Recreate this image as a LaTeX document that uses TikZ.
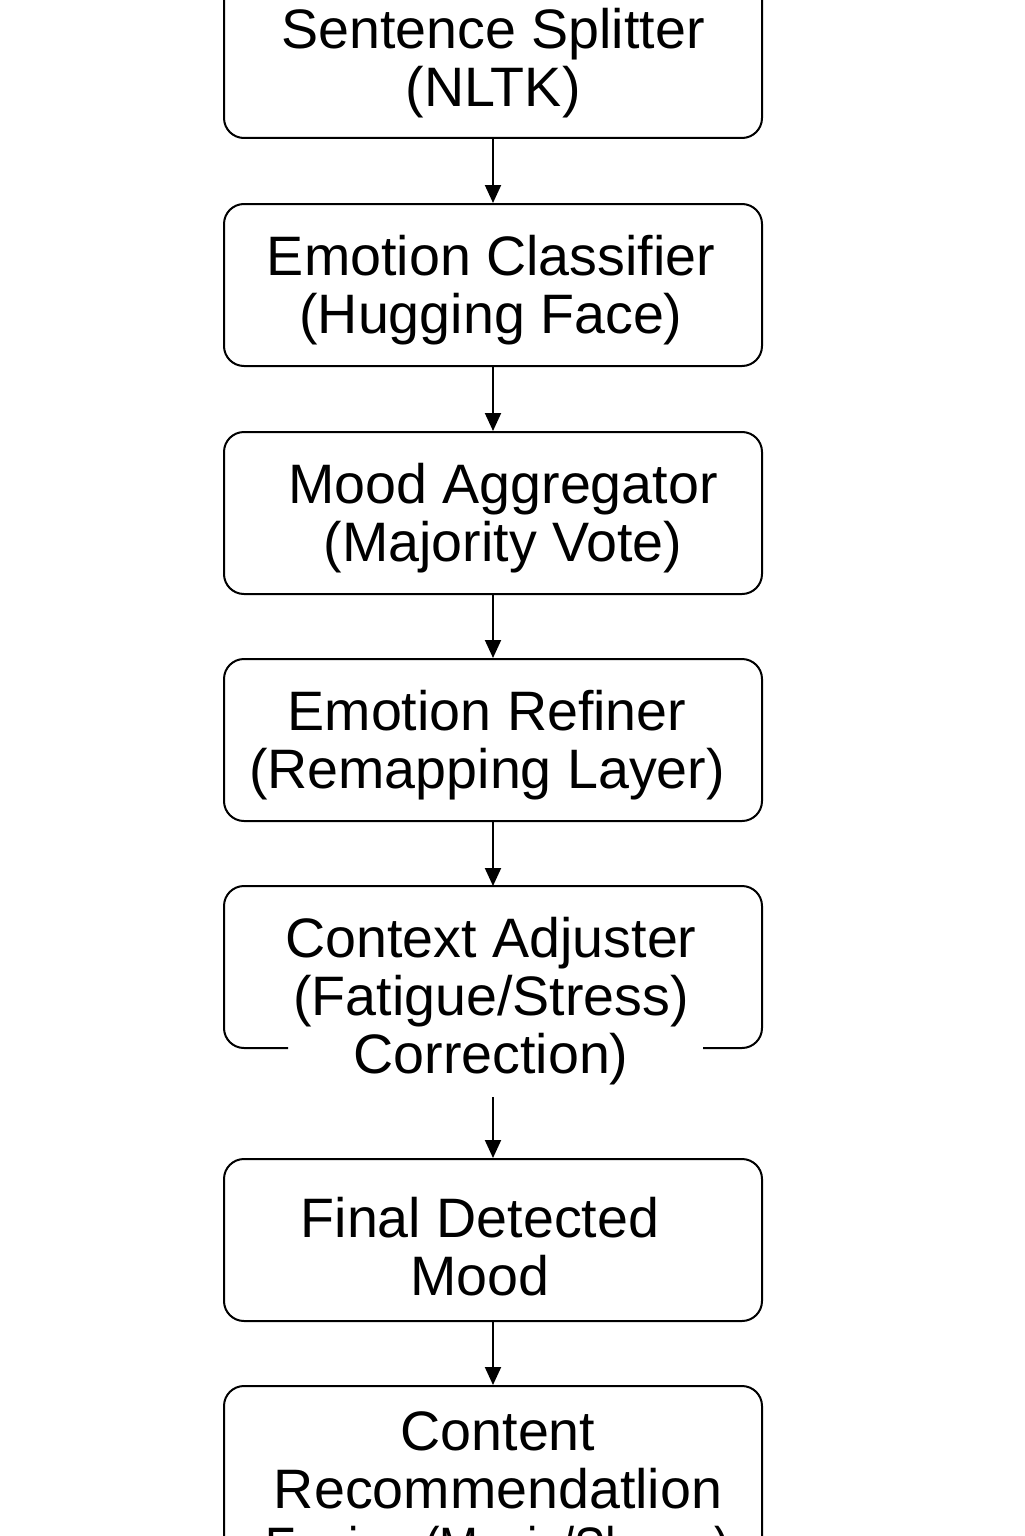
\documentclass[tikz,border=0pt]{standalone}
\usepackage{fontspec}
\setmainfont{Liberation Sans}
\usetikzlibrary{arrows.meta}
\begin{document}
\begin{tikzpicture}[x=0.5pt,y=-0.5pt,
  box/.style={draw=black,line width=1pt,rounded corners=10pt,minimum width=269pt,minimum height=81pt,inner sep=0pt},
  lbl/.style={align=center,font=\fontsize{27.8pt}{29pt}\selectfont,inner sep=0pt},
  arr/.style={line width=1pt,-{Triangle[length=9pt,width=8pt]}}]
\useasboundingbox (0,0) rectangle (1024,1536);
\clip (0,0) rectangle (1024,1536);
\fill[white] (0,0) rectangle (1024,1536);
% boxes
\node[box] (b1) at (493,57) {};
\node[lbl] (t1) at (493,63) {Sentence Splitter\\(NLTK)};
\node[box] (b2) at (493,285) {};
\node[lbl] (t2) at (491,290) {Emotion Classifier\\(Hugging Face)};
\node[box] (b3) at (493,513) {};
\node[lbl] (t3) at (503,518) {Mood Aggregator\\(Majority Vote)};
\node[box] (b4) at (493,740) {};
\node[lbl] (t4) at (487,745) {Emotion Refiner\\(Remapping Layer)};
% context adjuster box with open bottom
\coordinate (b5top) at (493,886);
\coordinate (b5bot) at (493,1097);
\draw[line width=1pt,rounded corners=10pt] (288,1048) -- (224,1048) -- (224,886) -- (762,886) -- (762,1048) -- (703,1048);
\node[lbl] (t5) at (491,1001) {Context Adjuster\\(Fatigue/Stress)\\Correction)};
\node[box] (b6) at (493,1240) {};
\node[lbl] (t6) at (480,1247) {Final Detected\\Mood};
\node[box,minimum height=104pt] (b7) at (493,1490) {};
\node[lbl] (t7) at (498,1495) {Content\\Recommendatlion\\\scalebox{0.84}[1]{Engine (Music/Shows)}};
% arrows
\draw[arr] (b1.south) -- (b2.north);
\draw[arr] (b2.south) -- (b3.north);
\draw[arr] (b3.south) -- (b4.north);
\draw[arr] (b4.south) -- (b5top);
\draw[arr] (b5bot) -- (b6.north);
\draw[arr] (b6.south) -- (b7.north);
\end{tikzpicture}
\end{document}
